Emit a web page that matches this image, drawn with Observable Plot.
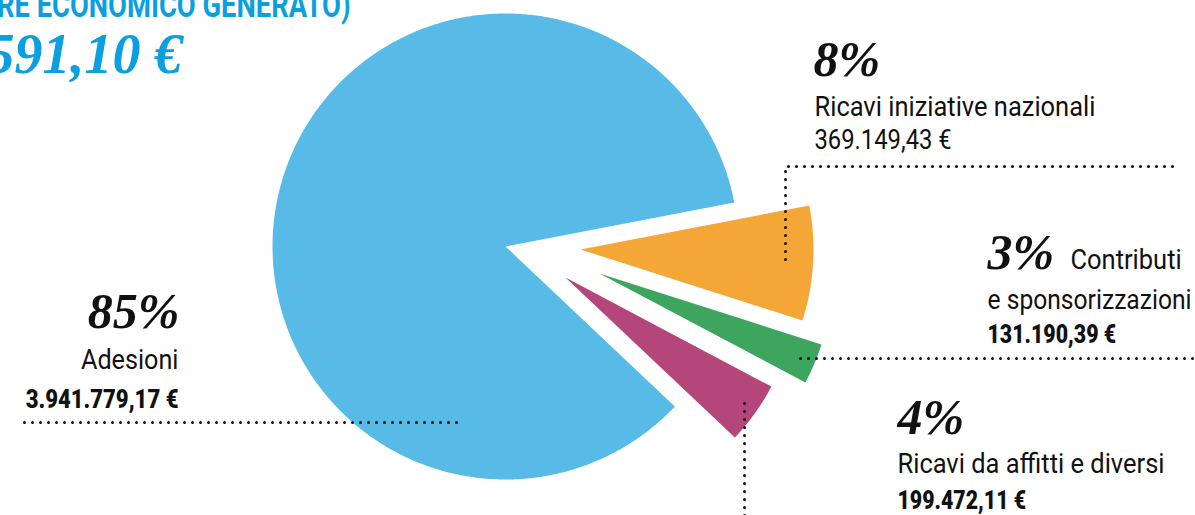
<!DOCTYPE html>
<html><head><meta charset="utf-8">
<script src="https://cdn.jsdelivr.net/npm/d3@7"></script>
<script src="https://cdn.jsdelivr.net/npm/@observablehq/plot@0.6"></script>
<style>
html,body{margin:0;padding:0;background:#fff;overflow:hidden}
#chart svg{display:block}
</style></head><body><div id="chart"></div>
<script>
// ---- data ----
const categories = ["Ricavi iniziative nazionali", "Contributi e sponsorizzazioni", "Ricavi da affitti e diversi", "Adesioni"];
const values = [369149.43, 131190.39, 199472.11, 3941779.17];
const colors = ["#f4a736", "#3ea55f", "#b4467a", "#58bbe7"];
const titleText = "(VALORE ECONOMICO GENERATO)";
const accent = "#0a9fe0";

// ---- layout ----
const W = 1195, H = 515;
const center = [505, 246], R = 233, startDeg = 79.1;
const explode = [[75, 3], [94, 27], [60, 31], [0, 0]];
const leaderPaths = [
  [[1172, 166], [785, 166], [785, 267]],
  [[1192, 358], [799, 358]],
  [[744, 515], [744, 402]],
  [[24, 422], [461, 422]]
];

const total = d3.sum(values);
const fmt = new Intl.NumberFormat("it-IT", {minimumFractionDigits: 2, maximumFractionDigits: 2, useGrouping: true});
const euro = v => fmt.format(v) + " €";
const pct = v => Math.round(v / total * 100) + "%";

// slices as polygons from d3.pie angles
const a0 = startDeg * Math.PI / 180;
const arcs = d3.pie().sort(null).startAngle(a0).endAngle(a0 + 2 * Math.PI)(values);
const slicePts = [];
arcs.forEach((a, i) => {
  const cat = categories[i];
  const cx = center[0] + explode[i][0], cy = center[1] + explode[i][1];
  slicePts.push({cat, x: cx, y: cy});
  const n = Math.max(10, Math.ceil((a.endAngle - a.startAngle) * 120));
  for (let k = 0; k <= n; k++) {
    const t = a.startAngle + (a.endAngle - a.startAngle) * k / n;
    slicePts.push({cat, x: cx + R * Math.sin(t), y: cy - R * Math.cos(t)});
  }
  slicePts.push({cat, x: cx, y: cy});
});

const leaderPts = leaderPaths.flatMap((p, i) => p.map(([x, y]) => ({cat: categories[i], x, y})));

// ---- labels ----
const narrow = "Roboto, 'DejaVu Sans Condensed', sans-serif";
const display = "'Liberation Serif', 'DejaVu Serif', serif";

const textGroups = [
  {rows: [{t: titleText, x: 350, y: 16}], anchor: "end", font: narrow, weight: "bold", style: "normal", size: 36, fill: accent, sx: 0.76},
  {rows: [{t: euro(total), x: 182, y: 72}], anchor: "end", font: display, weight: "bold", style: "italic", size: 56, fill: accent, sx: 1},
  {rows: [
    {t: pct(values[0]), x: 813, y: 75},
    {t: pct(values[1]), x: 987, y: 268},
    {t: pct(values[2]), x: 897, y: 433}], anchor: "start", font: display, weight: "bold", style: "italic", size: 50, fill: "#111", sx: 1},
  {rows: [{t: pct(values[3]), x: 179, y: 327}], anchor: "end", font: display, weight: "bold", style: "italic", size: 50, fill: "#111", sx: 1},
  {rows: [
    {t: categories[0], x: 814, y: 115},
    {t: "Contributi", x: 1070, y: 268},
    {t: categories[2], x: 897, y: 472}], anchor: "start", font: narrow, weight: 400, style: "normal", size: 28, fill: "#111", sx: 0.91},
  {rows: [{t: "e sponsorizzazioni", x: 987, y: 308}], anchor: "start", font: narrow, weight: 400, style: "normal", size: 28, fill: "#111", sx: 0.88},
  {rows: [{t: categories[3], x: 178, y: 368}], anchor: "end", font: narrow, weight: 400, style: "normal", size: 28, fill: "#111", sx: 0.9},
  {rows: [{t: euro(values[0]), x: 814, y: 148}], anchor: "start", font: narrow, weight: 400, style: "normal", size: 28, fill: "#111", sx: 0.85},
  {rows: [
    {t: euro(values[1]), x: 987, y: 342},
    {t: euro(values[2]), x: 897, y: 508}], anchor: "start", font: narrow, weight: 900, style: "normal", size: 26, fill: "#111", sx: 0.82},
  {rows: [{t: euro(values[3]), x: 178, y: 407}], anchor: "end", font: narrow, weight: 900, style: "normal", size: 26, fill: "#111", sx: 0.85}
];

const textMarks = textGroups.map((g, i) => Plot.text(g.rows, {
  x: "x", y: "y", text: "t", textAnchor: g.anchor, lineAnchor: "bottom",
  fill: g.fill, fontFamily: g.font, fontWeight: g.weight, fontStyle: g.style, fontSize: g.size,
  ariaDescription: "label-group-" + i
}));

const chart = Plot.plot({
  width: W, height: H, margin: 0,
  x: {domain: [0, W], axis: null},
  y: {domain: [0, H], range: [0, H], axis: null},
  color: {domain: categories, range: colors},
  style: {background: "#fff"},
  marks: [
    Plot.line(slicePts, {x: "x", y: "y", z: "cat", fill: "cat", stroke: "none", curve: "linear"}),
    Plot.line(leaderPts, {x: "x", y: "y", z: "cat", stroke: "#111", strokeWidth: 3, strokeDasharray: "0 8", strokeLinecap: "round", strokeLinejoin: "round"}),
    ...textMarks
  ]
});

// condense the narrow texts horizontally around their anchor
textGroups.forEach((g, i) => {
  if (g.sx === 1) return;
  chart.querySelectorAll(`g[aria-description="label-group-${i}"] text`).forEach(el => {
    const tr = el.getAttribute("transform");
    if (tr) {
      el.setAttribute("transform", tr + ` scale(${g.sx},1)`);
    } else {
      const x = +el.getAttribute("x") || 0, y = +el.getAttribute("y") || 0;
      el.removeAttribute("x"); el.removeAttribute("y");
      el.setAttribute("transform", `translate(${x},${y}) scale(${g.sx},1)`);
    }
  });
});
document.getElementById("chart").appendChild(chart);
</script></body></html>
